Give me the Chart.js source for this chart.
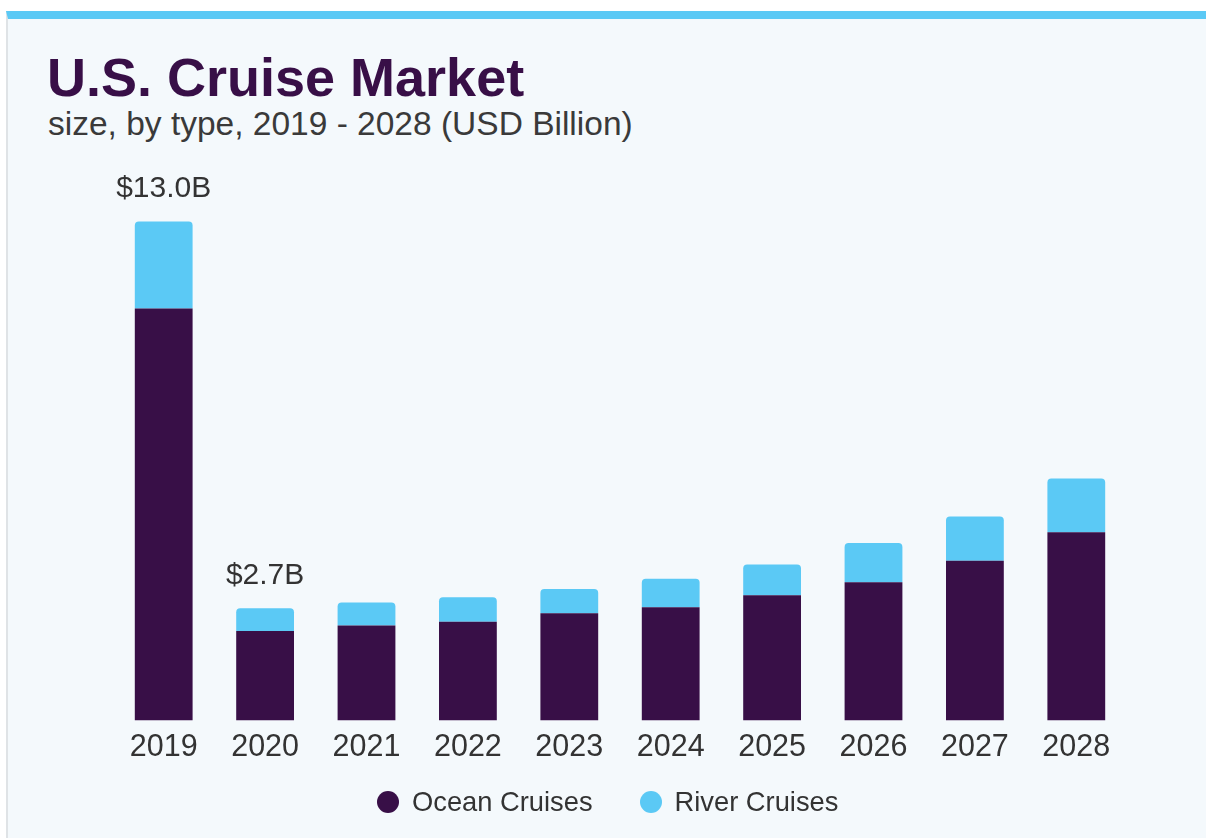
<!DOCTYPE html>
<html>
<head>
<meta charset="utf-8">
<script src="https://cdn.jsdelivr.net/npm/chart.js@4.4.1/dist/chart.umd.min.js"></script>
<style>
  body { margin: 0; background: #ffffff; width: 1206px; height: 838px; overflow: hidden; font-family: "Liberation Sans", Arial, sans-serif; }
  .card { position: absolute; left: 6px; top: 11px; width: 1200px; height: 827px; background: #f4f9fc; border-top: 8px solid #5bc9f5; border-left: 2px solid #dfe3e6; box-sizing: border-box; }
  .title { position: absolute; left: 47px; top: 46px; font-size: 54px; font-weight: bold; color: #380f47; }
  .subtitle { position: absolute; left: 48px; top: 105px; font-size: 33.5px; color: #3a3a3a; }
  canvas { position: absolute; left: 0; top: 0; }
  #legend { position: absolute; left: 377px; top: 788px; z-index: 2; }
  #legend ul { list-style: none; margin: 0; padding: 0; display: flex; align-items: center; gap: 47px; }
  #legend li { display: flex; align-items: center; font-size: 27.3px; line-height: 28px; color: #333333; }
  #legend .dot { width: 22px; height: 22px; border-radius: 50%; margin-right: 13px; }
</style>
</head>
<body>
<div class="card"></div>
<div class="title">U.S. Cruise Market</div>
<div class="subtitle">size, by type, 2019 - 2028 (USD Billion)</div>
<canvas id="cruiseChart" width="1206" height="838"></canvas>
<div id="legend"></div>
<script>
const years = ['2019', '2020', '2021', '2022', '2023', '2024', '2025', '2026', '2027', '2028'];
const oceanCruises = [10.73, 2.33, 2.47, 2.57, 2.79, 2.95, 3.26, 3.60, 4.16, 4.90];
const riverCruises = [2.27, 0.59, 0.60, 0.64, 0.63, 0.74, 0.80, 1.02, 1.15, 1.40];
const totalLabels = ['$13.0B', '$2.7B', '', '', '', '', '', '', '', ''];

// draws the $ labels above the first two stacks
const topLabels = {
  id: 'topLabels',
  afterDatasetsDraw(chart) {
    const ctx = chart.ctx;
    const meta = chart.getDatasetMeta(1);
    ctx.save();
    ctx.font = '30px "Liberation Sans", Arial, sans-serif';
    ctx.fillStyle = '#333333';
    ctx.textAlign = 'center';
    ctx.textBaseline = 'middle';
    meta.data.forEach((bar, i) => {
      if (totalLabels[i]) ctx.fillText(totalLabels[i], bar.x, bar.y - 33);
    });
    ctx.restore();
  }
};

// html legend built from the chart's own legend items
const htmlLegend = {
  id: 'htmlLegend',
  afterUpdate(chart) {
    const box = document.getElementById('legend');
    box.innerHTML = '';
    const ul = document.createElement('ul');
    chart.options.plugins.legend.labels.generateLabels(chart).forEach(item => {
      const li = document.createElement('li');
      const dot = document.createElement('span');
      dot.className = 'dot';
      dot.style.background = item.fillStyle;
      li.appendChild(dot);
      li.appendChild(document.createTextNode(item.text));
      ul.appendChild(li);
    });
    box.appendChild(ul);
  }
};

const ctx = document.getElementById('cruiseChart').getContext('2d');
new Chart(ctx, {
  type: 'bar',
  data: {
    labels: years,
    datasets: [
      {
        label: 'Ocean Cruises',
        data: oceanCruises,
        backgroundColor: '#380f47',
        barPercentage: 0.57,
        categoryPercentage: 1
      },
      {
        label: 'River Cruises',
        data: riverCruises,
        backgroundColor: '#5bc9f5',
        borderRadius: { topLeft: 4, topRight: 4, bottomLeft: 0, bottomRight: 0 },
        borderSkipped: false,
        barPercentage: 0.57,
        categoryPercentage: 1
      }
    ]
  },
  options: {
    responsive: false,
    animation: false,
    layout: { padding: { left: 113, right: 79, top: 183, bottom: 63 } },
    scales: {
      x: {
        stacked: true,
        grid: { display: false, drawTicks: false },
        border: { display: false },
        ticks: { color: '#333333', font: { size: 30.5, family: '"Liberation Sans", Arial, sans-serif' }, padding: 9 }
      },
      y: {
        stacked: true,
        display: false,
        min: 0,
        max: 14
      }
    },
    plugins: {
      legend: { display: false },
      tooltip: { enabled: false }
    }
  },
  plugins: [topLabels, htmlLegend]
});
</script>
</body>
</html>
